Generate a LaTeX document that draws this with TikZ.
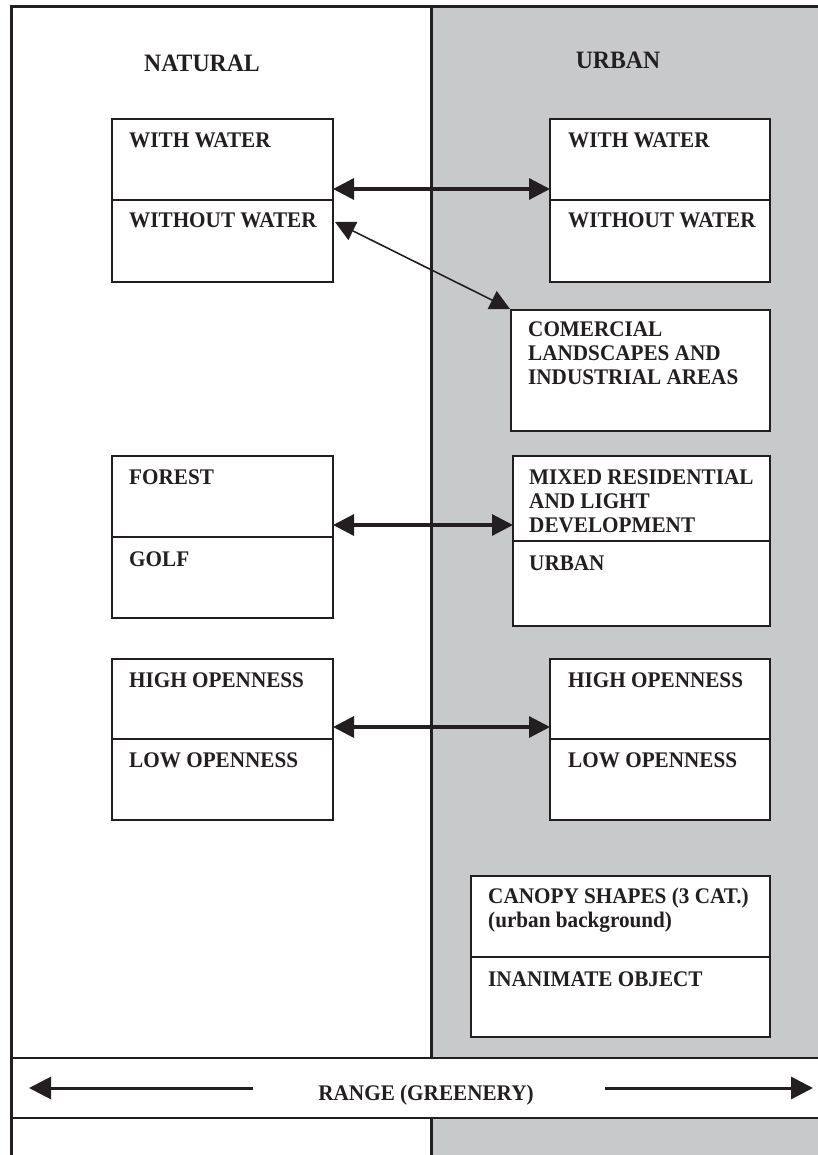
\documentclass[tikz,border=0pt]{standalone}
\usepackage{fontspec}
\newfontfamily\tnr{Liberation Serif}[FakeStretch=0.95]
\usetikzlibrary{arrows.meta}
\definecolor{ink}{HTML}{231F20}
\definecolor{urbgray}{HTML}{C8C9CB}
\begin{document}
\begin{tikzpicture}[x=1pt,y=-1pt,
  cell/.style={draw=ink, line width=1.6pt, fill=white, inner sep=0pt, outer sep=0pt, anchor=north west},
  lbl/.style={anchor=north west, inner sep=0pt, align=left, text=ink, font=\tnr\bfseries\fontsize{22.3}{24}\selectfont},
  heading/.style={anchor=base, inner sep=0pt, text=ink, font=\tnr\bfseries\fontsize{25}{28}\selectfont},
  rangetext/.style={anchor=base, inner sep=0pt, text=ink, font=\tnr\bfseries\fontsize{22.3}{24}\selectfont},
  frameline/.style={draw=ink, line width=3pt},
  bandline/.style={draw=ink, line width=2.2pt},
  link/.style={draw=ink, line width=3.2pt, {Triangle[length=21pt,width=21pt]}-{Triangle[length=21pt,width=21pt]}},
  thinlink/.style={draw=ink, line width=1.6pt, {Triangle[length=20pt,width=20pt]}-{Triangle[length=20pt,width=20pt]}},
  rangearrow/.style={draw=ink, line width=3pt, -{Triangle[length=22pt,width=22pt]}},
]
\useasboundingbox (0,0) rectangle (818,1155);
% urban background
\fill[urbgray] (431,7) rectangle (818,1155);
% range band
\node[anchor=north west, minimum width=807pt, minimum height=60pt, fill=white, inner sep=0pt, outer sep=0pt] (band) at (11,1058) {};
% frame and divider
\draw[frameline] (818,7) -- (11,7) -- (11,1155);
\draw[frameline] (431,7) -- (431,1058);
\draw[frameline] (431,1118) -- (431,1155);
\draw[bandline] (band.north west) -- (band.north east);
\draw[bandline] (band.south west) -- (band.south east);

% headings
\node[heading] (nat) at (202,72) {NATURAL};
\node[heading] (urb) at (618,69) {URBAN};

% boxes
\node[cell, minimum width=221pt, minimum height=81pt] (n1a) at (112,119) {};
\node[cell, minimum width=221pt, minimum height=82pt] (n1b) at (112,200) {};
\node[cell, minimum width=220pt, minimum height=81pt] (u1a) at (550,119) {};
\node[cell, minimum width=220pt, minimum height=82pt] (u1b) at (550,200) {};
\node[cell, minimum width=259pt, minimum height=121pt] (comm) at (511,310) {};
\node[cell, minimum width=221pt, minimum height=81pt] (f1a) at (112,456) {};
\node[cell, minimum width=221pt, minimum height=81pt] (f1b) at (112,537) {};
\node[cell, minimum width=257pt, minimum height=85pt] (m1a) at (513,456) {};
\node[cell, minimum width=257pt, minimum height=85pt] (m1b) at (513,541) {};
\node[cell, minimum width=221pt, minimum height=80pt] (h1a) at (112,659) {};
\node[cell, minimum width=221pt, minimum height=81pt] (h1b) at (112,739) {};
\node[cell, minimum width=220pt, minimum height=80pt] (hu1a) at (550,659) {};
\node[cell, minimum width=220pt, minimum height=81pt] (hu1b) at (550,739) {};
\node[cell, minimum width=299pt, minimum height=81pt] (c1a) at (471,876) {};
\node[cell, minimum width=299pt, minimum height=80pt] (c1b) at (471,957) {};

% labels
\node[lbl] (tn1a) at ([xshift=17pt,yshift=-14pt]n1a.north west) {WITH WATER};
\node[lbl] (tn1b) at ([xshift=17pt,yshift=-13pt]n1b.north west) {WITHOUT WATER};
\node[lbl] (tu1a) at ([xshift=18pt,yshift=-14pt]u1a.north west) {WITH WATER};
\node[lbl] (tu1b) at ([xshift=18pt,yshift=-13pt]u1b.north west) {WITHOUT WATER};
\node[lbl] (tcomm) at ([xshift=17pt,yshift=-12pt]comm.north west) {COMERCIAL\\LANDSCAPES AND\\INDUSTRIAL AREAS};
\node[lbl] (tf1a) at ([xshift=17pt,yshift=-14pt]f1a.north west) {FOREST};
\node[lbl] (tf1b) at ([xshift=17pt,yshift=-15pt]f1b.north west) {GOLF};
\node[lbl] (tm1a) at ([xshift=16pt,yshift=-14pt]m1a.north west) {MIXED RESIDENTIAL\\AND LIGHT\\DEVELOPMENT};
\node[lbl] (tm1b) at ([xshift=16pt,yshift=-15pt]m1b.north west) {URBAN};
\node[lbl] (th1a) at ([xshift=17pt,yshift=-14pt]h1a.north west) {HIGH OPENNESS};
\node[lbl] (th1b) at ([xshift=17pt,yshift=-14pt]h1b.north west) {LOW OPENNESS};
\node[lbl] (thu1a) at ([xshift=18pt,yshift=-14pt]hu1a.north west) {HIGH OPENNESS};
\node[lbl] (thu1b) at ([xshift=18pt,yshift=-14pt]hu1b.north west) {LOW OPENNESS};
\node[lbl] (tc1a) at ([xshift=17pt,yshift=-12pt]c1a.north west) {CANOPY SHAPES (3 CAT.)\\(urban background)};
\node[lbl] (tc1b) at ([xshift=17pt,yshift=-15pt]c1b.north west) {INANIMATE OBJECT};

% connectors
\draw[link] ([yshift=11pt]n1a.south east) -- ([yshift=11pt]u1a.south west);
\draw[thinlink] ([xshift=2pt,yshift=-22pt]n1b.north east) -- ([xshift=-1pt,yshift=1pt]comm.north west);
\draw[link] ([yshift=12pt]f1a.south east) -- ([yshift=16pt]m1a.south west);
\draw[link] ([yshift=12pt]h1a.south east) -- ([yshift=12pt]hu1a.south west);

% range
\node[rangetext] (range) at (426,1100) {RANGE (GREENERY)};
\coordinate (rlStart) at ([xshift=242pt]band.west);
\coordinate (rlTip) at ([xshift=18pt]band.west);
\coordinate (rrStart) at ([xshift=-213pt]band.east);
\coordinate (rrTip) at ([xshift=-5pt]band.east);
\draw[rangearrow] (rlStart) -- (rlTip);
\draw[rangearrow] (rrStart) -- (rrTip);
\end{tikzpicture}
\end{document}
